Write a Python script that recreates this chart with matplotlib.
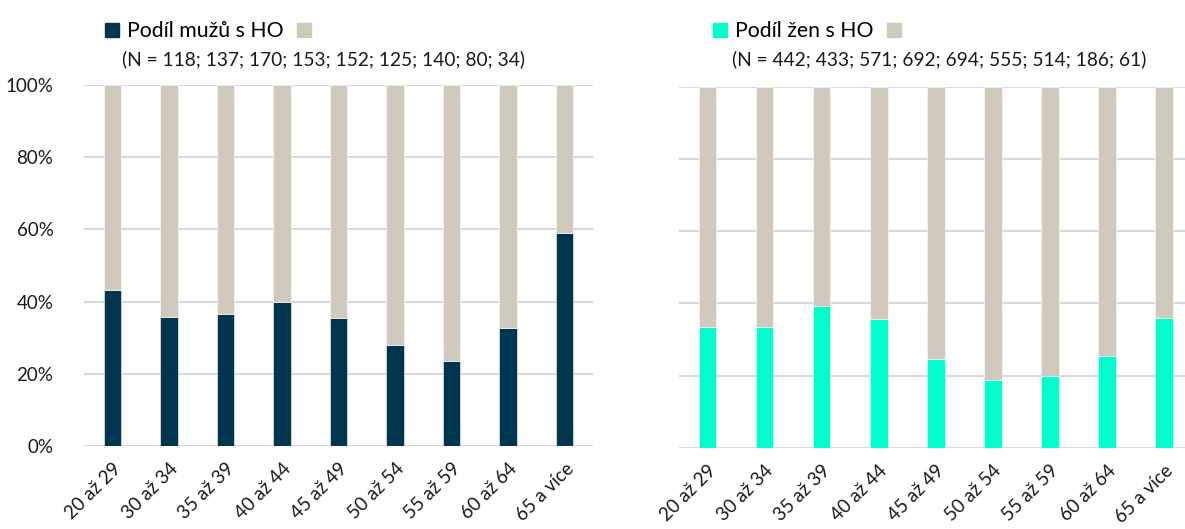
import matplotlib
matplotlib.use("Agg")
import matplotlib.pyplot as plt
from matplotlib.patches import Patch
from matplotlib.ticker import PercentFormatter

plt.rcParams['font.family'] = ['Lato', 'DejaVu Sans']

categories = ["20 až 29", "30 až 34", "35 až 39", "40 až 44", "45 až 49",
              "50 až 54", "55 až 59", "60 až 64", "65 a více"]
men_share = [43.2, 35.7, 36.5, 39.8, 35.5, 28.0, 23.5, 32.6, 58.9]
women_share = [33.4, 33.4, 39.3, 35.6, 24.7, 18.9, 20.0, 25.5, 35.9]
men_n = "(N = 118; 137; 170; 153; 152; 125; 140; 80; 34)"
women_n = "(N = 442; 433; 571; 692; 694; 555; 514; 186; 61)"
men_label = "Podíl mužů s HO"
women_label = "Podíl žen s HO"

c_men = "#00354F"
c_women = "#00FFCC"
c_rest = "#D0C9BD"
c_grid = "#D9D9D9"

fig = plt.figure(figsize=(11.85, 5.29), dpi=100)
W, H = 1185, 529
axL = fig.add_axes([84 / W, 1 - 446 / H, (593 - 84) / W, (446 - 85) / H])
axR = fig.add_axes([679 / W, 1 - 448 / H, (1185 - 679) / W, (448 - 86.7) / H])

def draw(ax, vals, color, show_y, xmax):
    x = list(range(len(categories)))
    rest = [100 - v for v in vals]
    ax.bar(x, vals, width=0.31, color=color, zorder=3, edgecolor='white', linewidth=0.4)
    ax.bar(x, rest, bottom=vals, width=0.31, color=c_rest, zorder=3, edgecolor='white', linewidth=0.4)
    ax.set_ylim(0, 100)
    ax.set_xlim(-0.5, xmax)
    ax.set_yticks([0, 20, 40, 60, 80, 100])
    ax.yaxis.set_major_formatter(PercentFormatter(decimals=0))
    ax.grid(axis='y', color=c_grid, linewidth=1.5, zorder=0)
    ax.set_axisbelow(True)
    for s in ax.spines.values():
        s.set_visible(False)
    ax.tick_params(axis='both', length=0, labelsize=13.5, colors='#1a1a1a')
    ax.tick_params(axis='y', pad=22)
    ax.set_xticks(x)
    ax.set_xticklabels(categories, rotation=45, ha='right', rotation_mode='anchor')
    ax.tick_params(axis='x', pad=10)
    if not show_y:
        ax.set_yticklabels([])

draw(axL, men_share, c_men, True, 8.5)
draw(axR, women_share, c_women, False, 8.37)

leg_kw = dict(ncol=2, frameon=False, loc='upper left', fontsize=15.3,
              handlelength=0.65, handleheight=0.65, handletextpad=0.4,
              columnspacing=0.6)
fig.legend(handles=[Patch(color=c_men), Patch(color=c_rest)],
           labels=[men_label, ""], bbox_to_anchor=(86 / W, 1 - 2 / H), **leg_kw)
fig.legend(handles=[Patch(color=c_women), Patch(color=c_rest)],
           labels=[women_label, ""], bbox_to_anchor=(694 / W, 1 - 2 / H), **leg_kw)

fig.text(122 / W, 1 - 59 / H, men_n, fontsize=13.8, va='center', ha='left', color='#1a1a1a')
fig.text(732 / W, 1 - 59 / H, women_n, fontsize=13.8, va='center', ha='left', color='#1a1a1a')

fig.savefig("out.png", dpi=100)
